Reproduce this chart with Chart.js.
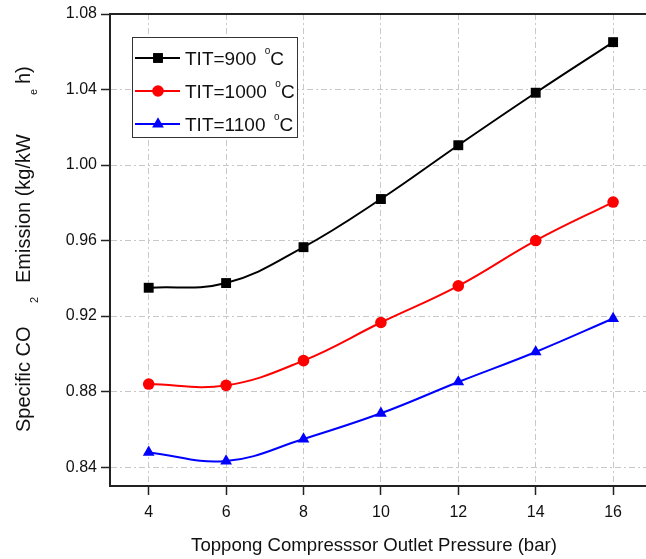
<!DOCTYPE html>
<html>
<head>
<meta charset="utf-8">
<script src="https://cdn.jsdelivr.net/npm/chart.js@4.4.1/dist/chart.umd.min.js"></script>
<style>
  html, body { margin: 0; padding: 0; background: #fff; overflow: hidden; }
  #wrap { width: 646px; height: 559px; position: relative; }
</style>
</head>
<body>
<div id="wrap"><canvas id="chart" width="646" height="559"></canvas></div>
<script>
// compressor outlet pressure (bar)
const pressure = [4, 6, 8, 10, 12, 14, 16];
// specific CO2 emission (kg/kWe h) for each turbine inlet temperature
const tit900 = [0.935, 0.9375, 0.9565, 0.982, 1.0105, 1.0383, 1.0651];
const tit1000 = [0.884, 0.8833, 0.8964, 0.9166, 0.936, 0.960, 0.9804];
const tit1100 = [0.8478, 0.8432, 0.8549, 0.8685, 0.8851, 0.901, 0.9187];

const seriesNames = ["TIT=900", "TIT=1000", "TIT=1100"];
const xTicks = [4, 6, 8, 10, 12, 14, 16];
const yTicks = [0.84, 0.88, 0.92, 0.96, 1.00, 1.04, 1.08];

const FONT = "'Liberation Sans', Arial, sans-serif";
const GRID = "#c8c8c8";
const AXIS = "#222";

const styles = [
  { color: "#000000", point: "rect", radius: 7 },
  { color: "#ff0000", point: "circle", radius: 5.8 },
  { color: "#0000ff", point: "triangle", radius: 6.8 },
];

const toPoints = (ys) => pressure.map((x, i) => ({ x: x, y: ys[i] }));

const datasets = [tit900, tit1000, tit1100].map((ys, i) => ({
  label: seriesNames[i],
  data: toPoints(ys),
  borderColor: styles[i].color,
  backgroundColor: styles[i].color,
  borderWidth: 2,
  pointStyle: styles[i].point,
  pointRadius: styles[i].radius,
  pointBorderWidth: 0,
  tension: 0.4,
  fill: false,
}));

// legend marker shapes
function marker(ctx, style, x, y, r) {
  ctx.beginPath();
  if (style === "rect") {
    const s = r * Math.SQRT1_2;
    ctx.rect(x - s, y - s, 2 * s, 2 * s);
  } else if (style === "circle") {
    ctx.arc(x, y, r, 0, Math.PI * 2);
  } else {
    ctx.moveTo(x, y - r);
    ctx.lineTo(x + r * Math.sin(Math.PI * 2 / 3), y + r * 0.5);
    ctx.lineTo(x - r * Math.sin(Math.PI * 2 / 3), y + r * 0.5);
    ctx.closePath();
  }
  ctx.fill();
}

function rotText(ctx, text, x, y, size) {
  ctx.save();
  ctx.translate(x, y);
  ctx.rotate(-Math.PI / 2);
  ctx.font = size + "px " + FONT;
  ctx.textAlign = "left";
  ctx.textBaseline = "alphabetic";
  ctx.fillText(text, 0, 0);
  ctx.restore();
}

const decorations = {
  id: "decorations",
  beforeDraw(chart) {
    const ctx = chart.ctx;
    ctx.save();
    ctx.fillStyle = "#fff";
    ctx.fillRect(0, 0, chart.width, chart.height);
    ctx.restore();
  },
  afterDraw(chart) {
    const ctx = chart.ctx;
    const area = chart.chartArea;
    ctx.save();

    // top frame line
    ctx.strokeStyle = AXIS;
    ctx.lineWidth = 2;
    ctx.beginPath();
    ctx.moveTo(area.left - 1, area.top);
    ctx.lineTo(area.right, area.top);
    ctx.stroke();

    // legend
    ctx.fillStyle = "#fff";
    ctx.fillRect(132, 37, 165, 100);
    ctx.strokeStyle = "#333";
    ctx.lineWidth = 1;
    ctx.strokeRect(132.5, 37.5, 165, 100);
    const rows = [58, 91, 124];
    seriesNames.forEach((name, i) => {
      const y = rows[i];
      ctx.strokeStyle = styles[i].color;
      ctx.fillStyle = styles[i].color;
      ctx.lineWidth = 2;
      ctx.beginPath();
      ctx.moveTo(135, y);
      ctx.lineTo(180, y);
      ctx.stroke();
      marker(ctx, styles[i].point, 158, y, styles[i].radius);

      ctx.fillStyle = "#111";
      ctx.textAlign = "left";
      ctx.textBaseline = "alphabetic";
      ctx.font = "19px " + FONT;
      ctx.fillText(name, 185, y + 7);
      let x = 185 + ctx.measureText(name).width + 8.5;
      ctx.font = "10px " + FONT;
      ctx.fillText("o", x, y - 4);
      x += ctx.measureText("o").width;
      ctx.font = "19px " + FONT;
      ctx.fillText("C", x, y + 7);
    });

    // axis titles
    ctx.fillStyle = "#111";
    ctx.font = "18.6px " + FONT;
    ctx.textAlign = "center";
    ctx.textBaseline = "alphabetic";
    ctx.fillText("Toppong Compresssor Outlet Pressure (bar)", 374, 551);

    rotText(ctx, "Specific CO", 30, 432, 20);
    rotText(ctx, "2", 38, 303, 11);
    rotText(ctx, "Emission (kg/kW", 30, 283, 20);
    rotText(ctx, "e", 37, 95, 11);
    rotText(ctx, "h)", 30, 84, 20);

    ctx.restore();
  },
};

new Chart(document.getElementById("chart"), {
  type: "line",
  data: { datasets: datasets },
  plugins: [decorations],
  options: {
    responsive: false,
    animation: false,
    layout: { autoPadding: false, padding: { top: 14, right: 0, left: 0, bottom: 0 } },
    plugins: {
      legend: { display: false },
      tooltip: { enabled: false },
      title: { display: false },
    },
    scales: {
      x: {
        type: "linear",
        min: 3,
        max: 16.85,
        afterBuildTicks: (s) => { s.ticks = xTicks.map((v) => ({ value: v })); },
        afterFit: (s) => { s.height = 73; s.paddingLeft = 0; s.paddingRight = 0; },
        ticks: {
          color: "#111",
          font: { family: FONT, size: 16 },
          padding: 8,
          callback: (v) => String(v),
        },
        grid: {
          color: GRID,
          lineWidth: 1,
          tickLength: 9,
          tickColor: AXIS,
          tickWidth: 1.5,
          tickBorderDash: [],
        },
        border: { display: true, color: AXIS, width: 2, dash: [6, 3, 2, 3] },
      },
      y: {
        type: "linear",
        min: 0.83,
        max: 1.08,
        afterBuildTicks: (s) => { s.ticks = yTicks.map((v) => ({ value: v })); },
        afterFit: (s) => { s.width = 110; s.paddingTop = 0; s.paddingBottom = 0; },
        ticks: {
          color: "#111",
          font: { family: FONT, size: 16 },
          padding: 4,
          callback: (v) => Number(v).toFixed(2),
        },
        grid: {
          color: GRID,
          lineWidth: 1,
          tickLength: 9,
          tickColor: AXIS,
          tickWidth: 1.5,
          tickBorderDash: [],
        },
        border: { display: true, color: AXIS, width: 2, dash: [6, 3, 2, 3] },
      },
    },
  },
});
</script>
</body>
</html>
